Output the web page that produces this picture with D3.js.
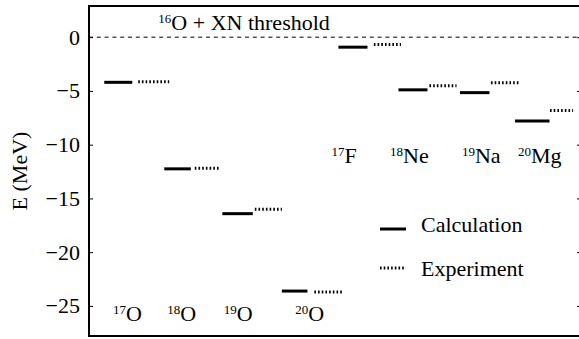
<!DOCTYPE html>
<html>
<head>
<meta charset="utf-8">
<script src="https://cdn.jsdelivr.net/npm/d3@7"></script>
<style>
  body { margin: 0; background: #fff; }
</style>
</head>
<body>
<div id="chart"></div>
<script>
// nuclei and their energies (MeV) relative to 16O + XN threshold
const massNumbers = ["17", "18", "19", "20", "17", "18", "19", "20"];
const elements = ["O", "O", "O", "O", "F", "Ne", "Na", "Mg"];
const calcEnergy = [-4.2, -12.25, -16.42, -23.62, -0.93, -4.9, -5.16, -7.79];
const expEnergy = [-4.14, -12.2, -16.0, -23.7, -0.69, -4.53, -4.25, -6.83];

// horizontal extent of each level (arbitrary x units, 0..100)
const calcX0 = [3.1, 15.3, 27.1, 39.2, 50.7, 62.9, 75.4, 86.6];
const calcX1 = [8.8, 20.7, 33.3, 44.4, 56.6, 68.8, 81.4, 93.6];
const expX0 = [10.0, 21.5, 33.7, 45.8, 57.9, 69.2, 81.7, 93.7];
const expX1 = [16.3, 26.4, 39.2, 51.8, 63.4, 74.7, 87.3, 98.4];

// label anchors (x units, MeV)
const labelX = [4.9, 15.9, 27.4, 41.9, 49.3, 61.2, 75.8, 87.2];
const labelY = [-26.4, -26.4, -26.4, -26.4, -11.7, -11.7, -11.7, -11.7];

const yTicks = [0, -5, -10, -15, -20, -25];

const W = 579, H = 339;
const margin = { top: 6, right: -2, bottom: 3, left: 89 };
const serif = "Liberation Serif";

const svg = d3.select("#chart")
  .append("svg")
  .attr("width", W)
  .attr("height", H)
  .attr("font-family", serif);

const x = d3.scaleLinear().domain([0, 100]).range([margin.left, W - margin.right]);
const y = d3.scaleLinear().domain([-27.8, 2.9]).range([H - margin.bottom, margin.top]);

const levels = d3.range(calcEnergy.length);

// threshold line
svg.append("line")
  .attr("x1", x(0)).attr("x2", x(100))
  .attr("y1", y(0)).attr("y2", y(0))
  .attr("stroke", "#000")
  .attr("stroke-width", 1)
  .attr("stroke-dasharray", "4,3.8");

// calculated levels
svg.selectAll(".calc")
  .data(levels)
  .join("line")
  .attr("class", "calc")
  .attr("x1", i => x(calcX0[i]))
  .attr("x2", i => x(calcX1[i]))
  .attr("y1", i => y(calcEnergy[i]))
  .attr("y2", i => y(calcEnergy[i]))
  .attr("stroke", "#000")
  .attr("stroke-width", 3);

// experimental levels
svg.selectAll(".exp")
  .data(levels)
  .join("line")
  .attr("class", "exp")
  .attr("x1", i => x(expX0[i]))
  .attr("x2", i => x(expX1[i]))
  .attr("y1", i => y(expEnergy[i]))
  .attr("y2", i => y(expEnergy[i]))
  .attr("stroke", "#000")
  .attr("stroke-width", 3)
  .attr("stroke-dasharray", "1.6,2.1");

// nucleus labels
const lab = svg.selectAll(".nuc")
  .data(levels)
  .join("text")
  .attr("class", "nuc")
  .attr("x", i => x(labelX[i]))
  .attr("y", i => y(labelY[i]))
  .style("font-family", serif)
  .attr("font-size", 22);
lab.append("tspan").attr("font-size", 13).attr("dy", -7).text(i => massNumbers[i]);
lab.append("tspan").attr("dy", 7).text(i => elements[i]);

// threshold title
const title = svg.append("text")
  .attr("x", x(14.1))
  .attr("y", y(0.68))
  .style("font-family", serif)
  .attr("font-size", 22);
title.append("tspan").attr("font-size", 13).attr("dy", -7).text("16");
title.append("tspan").attr("dy", 7).text("O + XN threshold");

// axes
const yAxisL = d3.axisLeft(y).tickValues(yTicks).tickSize(-4).tickPadding(9)
  .tickFormat(d => d === 0 ? "0" : "\u2212" + Math.abs(d));
const gL = svg.append("g")
  .attr("transform", `translate(${margin.left},0)`)
  .call(yAxisL)
  .attr("font-family", serif);
gL.select(".domain").remove();
gL.selectAll("text").attr("font-size", 22).style("font-family", serif);

const yAxisR = d3.axisRight(y).tickValues(yTicks).tickSize(-4).tickFormat("");
const gR = svg.append("g")
  .attr("transform", `translate(${W - margin.right},0)`)
  .call(yAxisR);
gR.select(".domain").remove();

// frame
svg.append("rect")
  .attr("x", margin.left)
  .attr("y", margin.top)
  .attr("width", W - margin.right - margin.left)
  .attr("height", H - margin.bottom - margin.top)
  .attr("fill", "none")
  .attr("stroke", "#000")
  .attr("stroke-width", 2);

// y label
svg.append("text")
  .attr("transform", `translate(27,${(margin.top + H - margin.bottom) / 2}) rotate(-90)`)
  .attr("text-anchor", "middle")
  .style("font-family", serif)
  .attr("font-size", 22)
  .text("E (MeV)");

// legend
const legendY = [229, 268];
const legendTextY = [232, 276];
const legendText = ["Calculation", "Experiment"];
const legend = svg.append("g");
legend.selectAll("line")
  .data(legendY)
  .join("line")
  .attr("x1", 380).attr("x2", 406)
  .attr("y1", d => d).attr("y2", d => d)
  .attr("stroke", "#000")
  .attr("stroke-width", 3)
  .attr("stroke-dasharray", (d, i) => i === 0 ? null : "1.6,2.1");
legend.selectAll("text")
  .data(legendText)
  .join("text")
  .attr("x", 421)
  .attr("y", (d, i) => legendTextY[i])
  .style("font-family", serif)
  .attr("font-size", 22)
  .text(d => d);
</script>
</body>
</html>
